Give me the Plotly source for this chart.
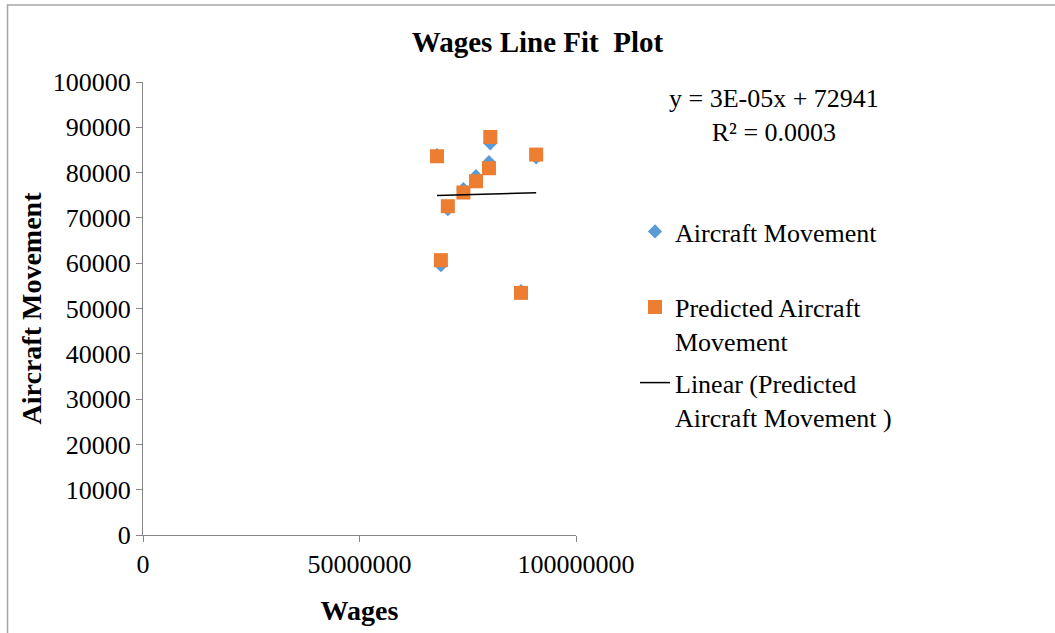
import numpy as np
import plotly.graph_objects as go

# Wages (x) and aircraft movement values
wages = [67.9e6, 68.8e6, 70.4e6, 74.0e6, 76.9e6, 80.2e6, 79.9e6, 87.3e6, 90.8e6]
actual_movement = [83830, 59570, 71920, 76330, 79200, 86480, 82290, 53830, 83390]
predicted_movement = [83610, 60670, 72580, 75600, 78090, 87870, 80960, 53450, 83980]

x_ticks = [0, 50000000, 100000000]
y_ticks = [0, 10000, 20000, 30000, 40000, 50000, 60000, 70000, 80000, 90000, 100000]

equation_text = "y = 3E-05x + 72941<br>R² = 0.0003"

FONT = "Times New Roman, Liberation Serif, serif"
AXIS_GREY = "#868686"

# Linear trendline of the predicted series (like Excel's "Linear" trendline)
slope, intercept = np.polyfit(wages, predicted_movement, 1)
trend_x = [min(wages), max(wages)]
trend_y = [slope * v + intercept for v in trend_x]

fig = go.Figure()

fig.add_trace(
    go.Scatter(
        x=wages,
        y=actual_movement,
        mode="markers",
        name="Aircraft Movement<br>&nbsp;",
        legendgroup="a",
        marker=dict(symbol="diamond", size=11, color="#5B9BD5"),
    )
)

fig.add_trace(
    go.Scatter(
        x=wages,
        y=predicted_movement,
        mode="markers",
        name="Predicted Aircraft<br>Movement",
        legendgroup="b",
        marker=dict(symbol="square", size=14, color="#ED7D31"),
    )
)

fig.add_trace(
    go.Scatter(
        x=trend_x,
        y=trend_y,
        mode="lines",
        name="Linear (Predicted<br>Aircraft Movement )",
        legendgroup="c",
        line=dict(color="black", width=1.5),
    )
)

# page pixels (body margin removed below)
W, H = 1055, 633
L, R, T, B = 143, 576, 82, 535
pw, ph = R - L, B - T


def px_x(p):
    return (p - L) / pw


def px_y(p):
    return (B - p) / ph


fig.add_annotation(
    text=equation_text,
    xref="paper",
    yref="paper",
    x=px_x(774),
    y=px_y(115),
    xanchor="center",
    yanchor="middle",
    showarrow=False,
    align="center",
    font=dict(family=FONT, size=26, color="black"),
)

# chart area border (right and bottom edges run off the picture)
fig.add_shape(
    type="rect",
    xref="paper",
    yref="paper",
    x0=px_x(7.5),
    x1=px_x(1100),
    y0=px_y(700),
    y1=px_y(5),
    line=dict(color="#A6A6A6", width=1.5),
    fillcolor="rgba(0,0,0,0)",
    layer="below",
)

fig.update_layout(
    width=W,
    height=H,
    margin=dict(l=L, r=W - R, t=T, b=H - B),
    paper_bgcolor="white",
    plot_bgcolor="white",
    font=dict(family=FONT, size=26, color="black"),
    title=dict(
        text="<b>Wages Line Fit&nbsp; Plot</b>",
        x=537.5 / W,
        xanchor="center",
        y=1 - 42 / H,
        yanchor="middle",
        yref="container",
        font=dict(family=FONT, size=29, color="black"),
    ),
    showlegend=True,
    legend=dict(
        x=px_x(635),
        y=px_y(208),
        xanchor="left",
        yanchor="top",
        valign="top",
        tracegroupgap=5,
        font=dict(family=FONT, size=26, color="black"),
        bgcolor="rgba(0,0,0,0)",
    ),
)

fig.update_xaxes(
    range=[0, 100000000],
    tickvals=x_ticks,
    tickformat="d",
    showgrid=False,
    zeroline=False,
    showline=True,
    linecolor=AXIS_GREY,
    linewidth=1,
    ticks="outside",
    ticklen=6,
    tickcolor=AXIS_GREY,
    tickfont=dict(family=FONT, size=26, color="black"),
    title=dict(
        text="<b>Wages</b>",
        standoff=22,
        font=dict(family=FONT, size=28, color="black"),
    ),
)

fig.update_yaxes(
    range=[0, 100000],
    tickvals=y_ticks,
    tickformat="d",
    showgrid=False,
    zeroline=False,
    showline=True,
    linecolor=AXIS_GREY,
    linewidth=1,
    ticks="outside",
    ticklen=6,
    tickcolor=AXIS_GREY,
    tickfont=dict(family=FONT, size=26, color="black"),
    title=dict(
        text="<b>Aircraft Movement</b>",
        standoff=2,
        font=dict(family=FONT, size=28, color="black"),
    ),
)

fig.write_html(
    "out.html",
    config={"displayModeBar": False},
    post_script="document.body.style.margin='0px';"
    "document.documentElement.style.overflow='hidden';",
)
